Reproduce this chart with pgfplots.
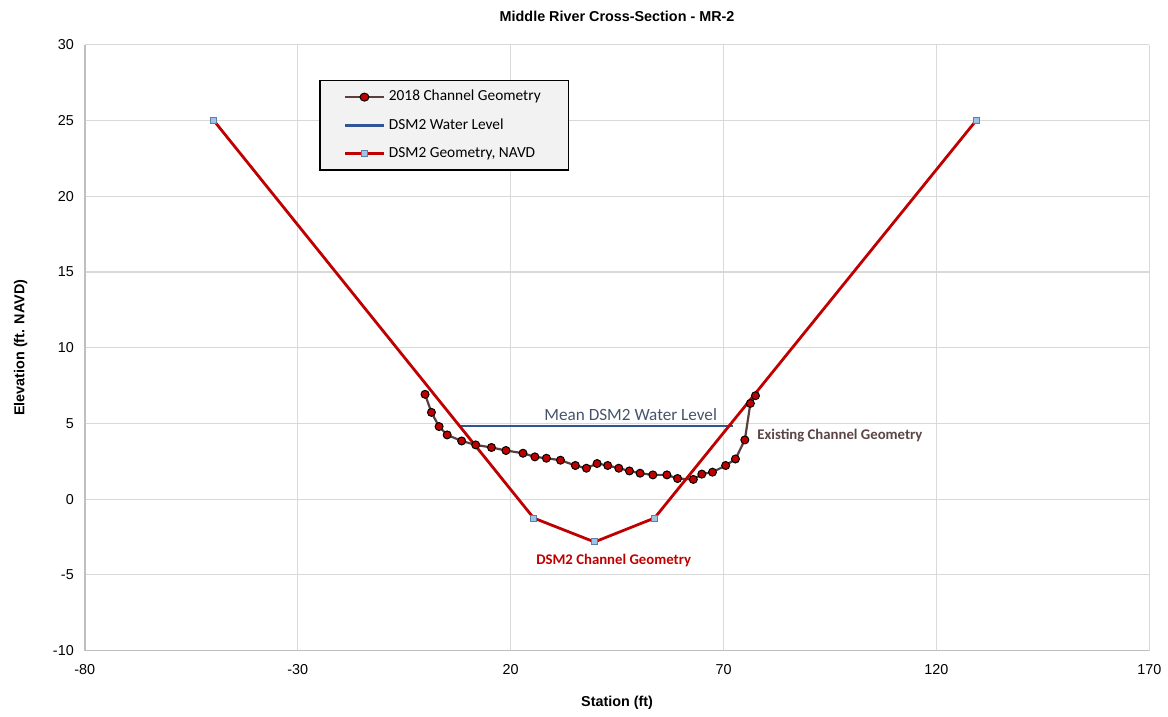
\documentclass[border=0pt]{standalone}
\usepackage{pgfplots}
\pgfplotsset{compat=1.18}
\usepackage{fontspec}
\setmainfont{Liberation Sans}
\newfontfamily\calfont{Carlito}
\definecolor{gridc}{HTML}{D9D9D9}
\definecolor{axc}{HTML}{BFBFBF}
\definecolor{chanline}{HTML}{5A3F3F}
\definecolor{chanmark}{HTML}{C00000}
\definecolor{wlblue}{HTML}{2F5597}
\definecolor{geored}{HTML}{C00000}
\definecolor{sqfill}{HTML}{9DC3E6}
\definecolor{sqedge}{HTML}{5B7FA6}
\definecolor{meantext}{HTML}{44546A}
\definecolor{existtext}{HTML}{5B4545}
\begin{document}
\begin{tikzpicture}
\begin{axis}[
  scale only axis,
  width=533.5pt, height=303.5pt,
  xmin=-80, xmax=170, ymin=-10, ymax=30,
  xtick={-80,-30,20,70,120,170},
  ytick={-10,-5,0,5,10,15,20,25,30},
  grid=major,
  major grid style={gridc, line width=0.6pt},
  axis line style={axc, line width=0.8pt},
  axis x line*=bottom, axis y line*=left,
  tick style={draw=none},
  tick label style={font=\fontsize{7.2}{8}\selectfont},
  /pgf/number format/assume math mode=true,
  xticklabel style={yshift=-3.5pt},
  yticklabel style={xshift=-2pt},
  xlabel={\textbf{Station (ft)}},
  ylabel={\textbf{Elevation (ft. NAVD)}},
  label style={font=\fontsize{7.2}{8}\selectfont},
  xlabel style={yshift=-4pt},
  ylabel style={yshift=6pt},
  title={\textbf{Middle River Cross-Section - MR-2}},
  title style={font=\fontsize{7.2}{8}\selectfont, yshift=2pt},
  legend style={at={(axis cs:-24.9,27.7)}, anchor=north west,
    fill=black!5, draw=black, line width=0.6pt,
    font=\calfont\fontsize{7.7}{8}\selectfont, row sep=3.4pt,
    inner xsep=12pt, inner ysep=3pt},
  legend cell align=left,
  legend image post style={xscale=1.12},
]
\addplot[chanline, line width=1.1pt, mark=*, mark size=2pt,
  mark options={fill=chanmark, draw=black, line width=0.5pt}] coordinates {
(-0.1,6.92) (1.4,5.73) (3.2,4.79) (5.1,4.24) (8.5,3.84) (11.8,3.58)
(15.5,3.41) (18.9,3.21) (22.9,3.03) (25.7,2.79) (28.4,2.70) (31.7,2.57)
(35.2,2.22) (37.8,2.04) (40.3,2.35) (42.8,2.22) (45.4,2.04) (47.9,1.86)
(50.4,1.71) (53.4,1.60) (56.7,1.60) (59.2,1.36) (62.9,1.30) (64.9,1.65)
(67.4,1.78) (70.5,2.22) (72.8,2.65) (75.0,3.91) (76.3,6.32) (77.5,6.83)
};
\addlegendentry{2018 Channel Geometry}
\addplot[wlblue, line width=1.1pt] coordinates {(7.9,4.81) (72.3,4.81)};
\addlegendentry{DSM2 Water Level}
\addplot[geored, line width=1.4pt, mark=square*, mark size=1.5pt,
  mark options={fill=sqfill, draw=sqedge, line width=0.5pt}] coordinates {
(-49.7,25) (25.4,-1.25) (39.7,-2.83) (53.8,-1.25) (129.3,25)
};
\addlegendentry{DSM2 Geometry, NAVD}
\node[font=\calfont\fontsize{8.6}{9}\selectfont, text=meantext] at (axis cs:48.2,5.6) {Mean DSM2 Water Level};
\node[font=\calfont\bfseries\fontsize{7.4}{8}\selectfont, text=existtext, anchor=west] at (axis cs:76.3,4.22) {Existing Channel Geometry};
\node[font=\calfont\bfseries\fontsize{7.4}{8}\selectfont, text=geored] at (axis cs:44.2,-4.08) {DSM2 Channel Geometry};
\end{axis}
\path (current axis.south west) ++(-42.5pt,-29pt) coordinate (bl);
\path (current axis.north east) ++(8pt,22.5pt) coordinate (tr);
\path (bl) rectangle (tr);
\end{tikzpicture}
\end{document}
